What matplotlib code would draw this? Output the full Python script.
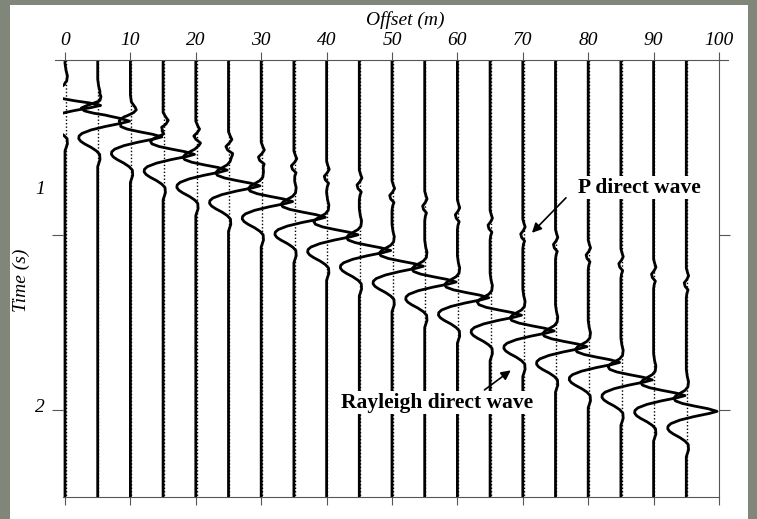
import numpy as np
import matplotlib
matplotlib.use('Agg')
import matplotlib.pyplot as plt
from matplotlib.patches import Rectangle
from matplotlib.lines import Line2D

plt.rcParams['font.family'] = ['Liberation Serif', 'DejaVu Serif']
plt.rcParams['font.style'] = 'italic'

# geophone offsets (m)
offsets = [0, 5, 10, 15, 20, 25, 30, 35, 40, 45, 50, 55, 60, 65, 70, 75, 80, 85, 90, 95]

# picked arrival times (s) of the Rayleigh peak and of the P wave on each trace
rayleigh_t = [0.26, 0.35, 0.44, 0.54, 0.63, 0.72, 0.81, 0.90, 1.00, 1.09,
              1.18, 1.27, 1.36, 1.46, 1.55, 1.64, 1.73, 1.83, 1.92, 2.01]
rayleigh_gain = [1.05, 1.0, 1.0, 1.0, 1.0, 1.0, 1.0, 1.0, 1.0, 1.0,
                 1.0, 1.0, 1.0, 1.0, 1.0, 1.0, 1.0, 1.0, 1.0, 0.98]
p_t = [0.19, 0.25, 0.30, 0.36, 0.41, 0.47, 0.53, 0.58, 0.64, 0.69,
       0.75, 0.81, 0.86, 0.92, 0.97, 1.03, 1.09, 1.14, 1.20, 1.25]
p_gain = [1.6, 1.6, 1.5, 1.5, 1.4, 1.3, 1.2, 1.1, 1.0, 1.0,
          1.0, 0.9, 0.9, 0.9, 0.9, 0.9, 0.9, 0.9, 0.9, 0.9]

# wavelet shapes (time from arrival in s, deflection in m)
rayleigh_dt = [-0.24, -0.20, -0.17, -0.14, -0.12, -0.105, -0.09, -0.075, -0.06, -0.045,
               -0.03, -0.015, 0.0, 0.012, 0.03, 0.05, 0.07, 0.085, 0.10, 0.115,
               0.13, 0.15, 0.17, 0.19, 0.22, 0.26]
rayleigh_amp = [0, 0.15, 0.35, 0.25, -0.2, -0.9, -1.6, -1.95, -1.7, -0.6,
                1.3, 3.4, 4.8, 3.6, 1.2, -1.0, -2.4, -2.85, -2.9, -2.6,
                -2.0, -1.0, -0.2, 0.3, 0.35, 0]
p_dt = [-0.06, -0.035, -0.015, 0.005, 0.025, 0.045, 0.065, 0.085, 0.11]
p_amp = [0, 0.2, 0.4, 0.1, -0.35, -0.2, 0.3, 0.1, 0]

t_max = 2.5
grey = '#555555'

fig = plt.figure(figsize=(7.57, 5.19), dpi=100, facecolor='#80877a')
fig.patches.append(Rectangle((10 / 757, 0), 738 / 757, 514 / 519,
                             transform=fig.transFigure, facecolor='white',
                             edgecolor='none', zorder=-10))

W, H = 757, 519
ax = fig.add_axes([63.04 / W, 1 - 497 / H, 655.96 / W, 437 / H])
ax.patch.set_visible(False)
ax.set_zorder(1)
ax.set_xlim(-0.3, 100)
ax.set_ylim(t_max, 0)

rdt = np.array(rayleigh_dt)
pdt = np.array(p_dt)
for i, x0 in enumerate(offsets):
    tr = rayleigh_t[i] + rdt
    tp = p_t[i] + pdt
    tt = np.unique(np.concatenate([[0, t_max], tr, tp]))
    amp = (np.interp(tt, tr, rayleigh_amp, left=0, right=0) * rayleigh_gain[i]
           + np.interp(tt, tp, p_amp, left=0, right=0) * p_gain[i])
    ax.plot([x0 + 0.12, x0 + 0.12], [0, t_max], color='k', ls=(0, (1, 1.5)), lw=1.0, zorder=2)
    ax.plot(x0 + amp, tt, color='k', lw=2.0, zorder=3, solid_joinstyle='round')

# axes frame
for side in ['left', 'top']:
    ax.spines[side].set_visible(False)
for side in ['right', 'bottom']:
    ax.spines[side].set_color(grey)
    ax.spines[side].set_linewidth(0.8)
fig.add_artist(Line2D([55 / W, 728 / W], [1 - 60 / H, 1 - 60 / H],
                      transform=fig.transFigure, color=grey, lw=0.8, zorder=2))

ax.set_xticks(range(0, 101, 10))
ax.xaxis.set_ticks_position('both')
ax.tick_params(axis='x', direction='out', length=6, width=0.8, color=grey,
               labeltop=True, labelbottom=False, pad=2, labelsize=14)
ax.set_yticks([1, 2])
ax.yaxis.set_ticks_position('both')
ax.tick_params(axis='y', direction='out', length=8, width=0.8, color=grey,
               labelleft=False, labelright=False)

# time labels as placed in the source figure
ylabel_pos = [0.74, 1.99]
ylabel_txt = ['1', '2']
for yp, s in zip(ylabel_pos, ylabel_txt):
    ax.text(-3.8, yp, s, ha='center', va='center', fontsize=14, clip_on=False)

ax.text(52.1, -0.23, 'Offset (m)', ha='center', va='center', fontsize=14, clip_on=False)
ax.text(-6.6, 1.26, 'Time (s)', ha='center', va='center', rotation=90,
        fontsize=14, clip_on=False)

box = dict(facecolor='white', edgecolor='none', pad=1.0)
ax.text(87.9, 0.73, 'P direct wave', ha='center', va='center', fontsize=15.5,
        fontweight='bold', fontstyle='normal', bbox=box, zorder=5)
ax.annotate('', xy=(71.1, 1.0), xytext=(76.9, 0.777),
            arrowprops=dict(arrowstyle='-|>', color='k', lw=1.2, mutation_scale=14),
            zorder=6)
ax.text(56.95, 1.96, 'Rayleigh direct wave', ha='center', va='center', fontsize=15.5,
        fontweight='bold', fontstyle='normal', bbox=box, zorder=5)
ax.annotate('', xy=(68.5, 1.766), xytext=(63.8, 1.897),
            arrowprops=dict(arrowstyle='-|>', color='k', lw=1.2, mutation_scale=14),
            zorder=6)

fig.savefig('out.png', dpi=100, facecolor=fig.get_facecolor())
